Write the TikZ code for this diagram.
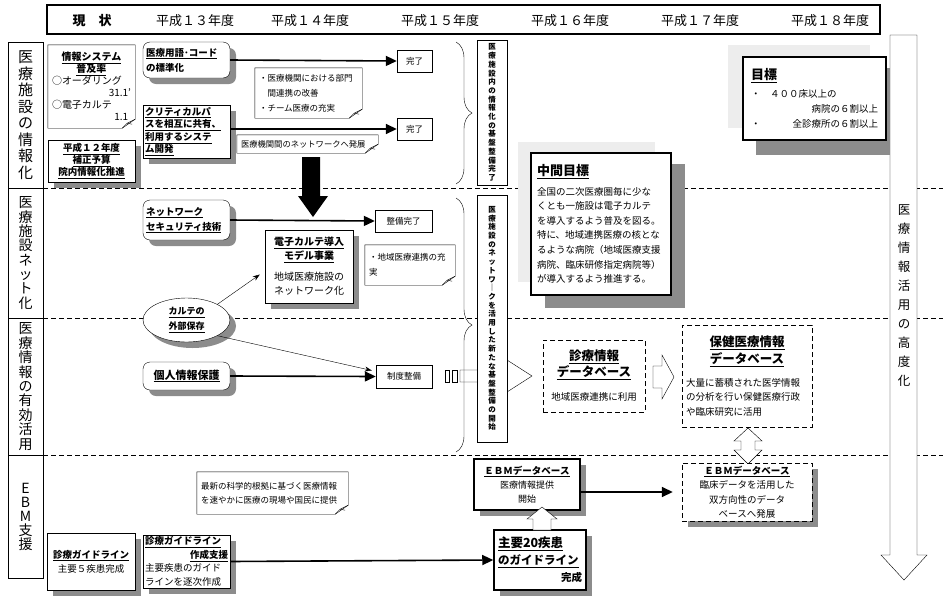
\documentclass[tikz,border=0pt]{standalone}
\usepackage{fontspec}
\setmainfont{Noto Sans CJK JP}
\usetikzlibrary{shapes.geometric,shadows,arrows.meta,decorations.pathreplacing}

\newcommand\hd[1]{\textbf{\underline{#1}}}
\newcommand\ctr[1]{\hfill#1\hfill\mbox{}}
\newcommand\foldnote[1]{%
  \draw (#1.north west) -- (#1.north east) -- ([yshift=9pt]#1.south east)
    -- ([xshift=-13pt]#1.south east) -- (#1.south west) -- cycle;
  \draw ([xshift=-13pt]#1.south east) -- ([xshift=-8pt,yshift=5pt]#1.south east)
    -- ([yshift=9pt]#1.south east);
  \draw ([xshift=-8pt,yshift=5pt]#1.south east) -- ([xshift=-3pt,yshift=4pt]#1.south east);}

\begin{document}
\begin{tikzpicture}[x=1pt, y=-1pt,
    box/.style={draw, fill=white, align=center, inner sep=2pt},
    sbox/.style={box, drop shadow={shadow xshift=6pt, shadow yshift=-6pt, fill=black!45, opacity=1}},
    rbox/.style={sbox, rounded corners=7pt},
    dbox/.style={box, dash pattern=on 5pt off 3pt},
    note/.style={fill=white, align=left, inner sep=4pt, font=\fontsize{8.5}{15}\selectfont},
    done/.style={box, minimum height=22pt, font=\fontsize{8.5}{10}\selectfont},
    link/.style={line width=1.6pt, -{Triangle[length=11pt, width=10pt]}},
    feed/.style={thin, -{Stealth[length=7pt, width=5pt]}},
    rowlab/.style={draw, fill=white, minimum width=35pt, inner sep=0pt, align=center},
    vtag/.style={draw, fill=white, minimum width=30pt, inner sep=0pt, align=center,
      font=\bfseries\fontsize{7.5}{8.7}\selectfont},
    hollow/.style={draw, fill=white}]
\useasboundingbox (0,0) rectangle (943,603);

% header
\node[draw, line width=1.5pt, minimum width=833pt, minimum height=29pt] (head) at (463.5,19.5) {};
\node[font=\bfseries\fontsize{13}{15}\selectfont] (now) at (92,21) {現　状};
\foreach \t/\x [count=\i] in {平成１３年度/195, 平成１４年度/310, 平成１５年度/440,
    平成１６年度/570, 平成１７年度/700, 平成１８年度/830}
  \node[font=\fontsize{13}{15}\selectfont] (yr\i) at (\x,21) {\t};

% row labels
\node[rowlab, minimum height=146pt, font=\fontsize{15}{16.5}\selectfont] (row1) at (25.5,115)
  {医\\療\\施\\設\\の\\情\\報\\化};
\node[rowlab, minimum height=130pt, font=\fontsize{14}{14.3}\selectfont] (row2) at (25.5,253)
  {医\\療\\施\\設\\ネ\\ッ\\ト\\化};
\node[rowlab, minimum height=137pt, font=\fontsize{14}{14.4}\selectfont] (row3) at (25.5,386.5)
  {医\\療\\情\\報\\の\\有\\効\\活\\用};
\node[rowlab, minimum height=123pt, font=\fontsize{14}{14}\selectfont] (row4) at (25.5,516.5)
  {E\\B\\M\\支\\援};
\foreach \r in {row1,row2,row3}
  \draw[dash pattern=on 5pt off 3pt] (\r.south east) -- +(900,0);

% long arrow on the right
\draw[hollow] (890,35) -- (917,35) -- (917,555) -- (927,555) -- (904,580) -- (881,555) -- (890,555) -- cycle;
\node[font=\fontsize{12.5}{19}\selectfont, align=center] (trend) at (904,296)
  {医\\療\\情\\報\\活\\用\\の\\高\\度\\化};

% goals
\fill[black!7] (728,45) rectangle (870,128);
\fill[black!45] (756,68) rectangle (890,155);
\node[box, line width=1.5pt, minimum width=143pt, minimum height=83pt, text width=127pt, align=left,
  font=\fontsize{9.5}{15}\selectfont] (goal) at (814.5,98.5)
  {\hd{\fontsize{13}{15}\selectfont 目標}\\[3pt]
   ・\quad ４００床以上の\\ \hfill 病院の６割以上\\ ・\hfill 全診療所の６割以上};

\fill[black!7] (518,142) rectangle (655,282);
\fill[black!45] (545,164) rectangle (685,308);
\node[box, line width=1.5pt, minimum width=140pt, minimum height=142pt, text width=128pt, align=left,
  font=\fontsize{9.5}{14.6}\selectfont] (midgoal) at (601,224)
  {\hd{\fontsize{13}{15}\selectfont 中間目標}\\[5pt]
   全国の二次医療圏毎に少な\\くとも一施設は電子カルテ\\を導入するよう普及を図る。\\
   特に、地域連携医療の核とな\\るような病院（地域医療支援\\病院、臨床研修指定病院等）\\
   が導入するよう推進する。};

% row 1
\node[note, minimum width=87pt, minimum height=83pt, text width=79pt, font=\fontsize{10}{12}\selectfont]
  (sys) at (91.5,86.5)
  {\ctr{\hd{情報システム}}\\ \ctr{\hd{普及率}}\\ ○オーダリング\\ \hfill 31.1'\\
   ○電子カルテ\\ \hfill 1.1\phantom{'}};
\foldnote{sys}
\node[sbox, minimum width=87pt, minimum height=42pt, font=\fontsize{9.5}{12}\selectfont] (budget) at (91.5,161)
  {\hd{平成１２年度}\\ \hd{補正予算}\\ \hd{院内情報化推進}};
\node[rbox, minimum width=87pt, minimum height=36pt, text width=81pt, align=left,
  font=\fontsize{9.5}{15}\selectfont] (terms) at (186.5,60)
  {\hd{医療用語･コード}\\ \textbf{の標準化}};
\node[sbox, minimum width=87pt, minimum height=53pt, text width=83pt, align=left,
  font=\fontsize{9.5}{12.5}\selectfont] (path) at (186.5,131.5)
  {\hd{クリティカルパ}\\ \hd{スを相互に共有、}\\ \hd{利用するシステ}\\ \hd{ム開発}};
\node[done, minimum width=35pt] (done1) at (414.5,61) {完了};
\node[done, minimum width=35pt] (done2) at (414.5,129) {完了};
\node[note, minimum width=107pt, minimum height=50pt, text width=99pt] (team) at (308.5,93)
  {・医療機関における部門\\ \hspace{1em}間連携の改善\\ ・チーム医療の充実};
\foldnote{team}
\node[note, minimum width=141pt, minimum height=18pt, text width=133pt, inner sep=4pt,
  font=\fontsize{8.3}{10}\selectfont] (link1) at (307.5,144) {医療機関間のネットワークへ発展};
\foldnote{link1}
\draw[link] (terms.east) -- (done1.west);
\draw[link] (path.east |- done2) -- (done2.west);
\fill (302,157) -- (320,157) -- (320,196) -- (328,196) -- (313,217) -- (298,196) -- (302,196) -- cycle;
\draw[decorate, decoration={brace, amplitude=16pt}] (456,42) -- (456,184);
\node[vtag, minimum height=145pt] (tag1) at (492,112.5)
  {医\\療\\施\\設\\内\\の\\情\\報\\化\\の\\基\\盤\\整\\備\\完\\了};

% row 2
\node[rbox, minimum width=87pt, minimum height=40pt, text width=81pt, align=left,
  font=\fontsize{9.5}{15}\selectfont] (sec) at (186.5,220)
  {\hd{ネットワーク}\\ \hd{セキュリティ技術}};
\node[done, minimum width=57pt] (ready) at (403.5,221) {整備完了};
\node[sbox, minimum width=88pt, minimum height=73pt, font=\fontsize{10}{14}\selectfont] (model) at (309,266.5)
  {\hd{電子カルテ導入}\\ \hd{モデル事業}\\[7pt] 地域医療施設の\\ ネットワーク化};
\node[note, minimum width=90pt, minimum height=40pt, text width=82pt] (area) at (410,265)
  {・地域医療連携の充\\ 実};
\foldnote{area}
\node[sbox, ellipse, inner sep=0pt, minimum width=87pt, minimum height=44pt,
  font=\fontsize{9}{15}\selectfont] (karte) at (186.5,320) {\hd{カルテの}\\ \hd{外部保存}};
\draw[link] (sec.east) -- (ready.west);

% row 3
\node[rbox, minimum width=87pt, minimum height=28pt, font=\fontsize{11}{13}\selectfont] (privacy) at (186.5,376)
  {\hd{個人情報保護}};
\node[done, minimum width=56pt, minimum height=23pt] (law) at (404,376.5) {制度整備};
\draw[link] (privacy.east) -- (law.west);
\draw[feed] (karte.north east) -- ([xshift=-5pt, yshift=-8pt]model.west);
\draw[feed] (karte.south east) -- ([xshift=-4pt, yshift=6pt]law.west);
\draw[hollow] (445,370) rectangle (449,382);
\draw[hollow] (452,370) rectangle (457,382);
\draw[hollow] (460,370) -- (507,370) -- (507,360) -- (532,376) -- (507,392) -- (507,382) -- (460,382) -- cycle;
\draw[decorate, decoration={brace, amplitude=16pt}] (456,198) -- (456,452);
\node[vtag, minimum height=247pt] (tag2) at (492,318.5)
  {医\\療\\施\\設\\の\\ネ\\ッ\\ト\\ワ\\｜\\ク\\を\\活\\用\\し\\た\\新\\た\\な\\基\\盤\\整\\備\\の\\開\\始};
\node[dbox, minimum width=102pt, minimum height=72pt, font=\fontsize{9.5}{16}\selectfont] (clinic) at (594,376)
  {\hd{\fontsize{12.5}{15}\selectfont 診療情報}\\ \hd{\fontsize{12.5}{15}\selectfont データベース}\\[8pt]
   地域医療連携に利用};
\draw[hollow] (653,366) -- (662,366) -- (662,355) -- (674,377) -- (662,399) -- (662,388) -- (653,388) -- cycle;
\node[dbox, minimum width=130pt, minimum height=102pt, text width=122pt, align=left,
  font=\fontsize{9.5}{14.5}\selectfont] (health) at (747,376)
  {\ctr{\hd{\fontsize{12.5}{15}\selectfont 保健医療情報}}\\[3pt]
   \ctr{\hd{\fontsize{12.5}{15}\selectfont データベース}}\\[8pt]
   大量に蓄積された医学情報\\ の分析を行い保健医療行政\\ や臨床研究に活用};
\draw[hollow] (748,428) -- (762,441) -- (755,441) -- (755,450) -- (762,450) -- (748,464)
  -- (734,450) -- (741,450) -- (741,441) -- (734,441) -- cycle;

% row 4
\node[note, minimum width=151pt, minimum height=42pt, text width=143pt, font=\fontsize{8.5}{14}\selectfont]
  (news) at (272.5,493) {最新の科学的根拠に基づく医療情報\\ を速やかに医療の現場や国民に提供};
\foldnote{news}
\node[sbox, minimum width=88pt, minimum height=57pt, font=\fontsize{9.5}{14}\selectfont] (gl1) at (91,561.5)
  {\hd{診療ガイドライン}\\ 主要５疾患完成};
\node[sbox, minimum width=87pt, minimum height=53pt, text width=83pt, align=left,
  font=\fontsize{9.5}{13.5}\selectfont] (gl2) at (186.5,561.5)
  {\hd{診療ガイドライン}\\ \hfill\hd{作成支援}\\ 主要疾患のガイド\\ ラインを逐次作成};
\node[sbox, line width=1.5pt, minimum width=92pt, minimum height=60pt, text width=84pt, align=left,
  font=\fontsize{10.5}{17}\selectfont] (gl20) at (540,560)
  {\hd{\fontsize{12.5}{15}\selectfont 主要20疾患}\\ \hd{\fontsize{11.5}{15}\selectfont のガイドライン}\\
   \hfill\textbf{完成}};
\node[sbox, line width=1.5pt, minimum width=106pt, minimum height=51pt, font=\fontsize{9}{14}\selectfont]
  (ebm) at (527,484.5) {\hd{\fontsize{9.5}{12}\selectfont ＥＢＭデータベース}\\ 医療情報提供\\ 開始};
\node[dbox, drop shadow={shadow xshift=6pt, shadow yshift=-6pt, fill=black!45, opacity=1},
  minimum width=130pt, minimum height=58pt, font=\fontsize{9.5}{14.5}\selectfont] (ebmdb) at (747,492)
  {\hd{ＥＢＭデータベース}\\ 臨床データを活用した\\ 双方向性のデータ\\ ベースへ発展};
\draw[hollow] (542,507) -- (557,519) -- (551,519) -- (551,530) -- (533,530) -- (533,519) -- (527,519) -- cycle;
\draw[link] (gl2.east) -- (gl20.west);
\draw[link, shorten >=9pt] (ebm.east |- ebmdb.west) -- (ebmdb.west);
\end{tikzpicture}
\end{document}
